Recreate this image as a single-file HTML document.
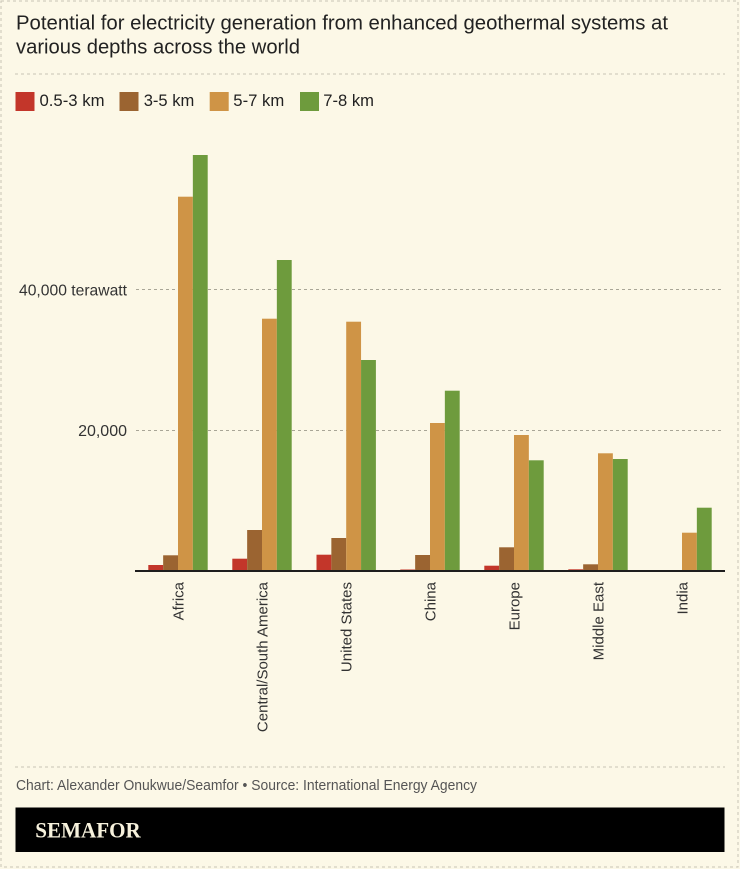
<!DOCTYPE html>
<html>
<head>
<meta charset="utf-8">
<style>
html,body{margin:0;padding:0;background:#fcf8e7;}
svg{display:block;}
text{font-family:"Liberation Sans",Arial,sans-serif;}
</style>
</head>
<body>
<svg width="740" height="869" viewBox="0 0 740 869" xmlns="http://www.w3.org/2000/svg">
<rect x="0" y="0" width="740" height="869" fill="#fcf8e7"/>
<rect x="1" y="1" width="737" height="866" fill="none" stroke="#c9c5b5" stroke-width="1" stroke-dasharray="3,3"/>

<!-- Title -->
<text x="16" y="29.5" font-size="20" fill="#222" textLength="652" lengthAdjust="spacingAndGlyphs">Potential for electricity generation from enhanced geothermal systems at</text>
<text x="16" y="53.5" font-size="20" fill="#222" textLength="284" lengthAdjust="spacingAndGlyphs">various depths across the world</text>

<line x1="15" y1="74" x2="725" y2="74" stroke="#c9c5b5" stroke-width="1" stroke-dasharray="3,3"/>

<!-- Legend -->
<rect x="15.5" y="92" width="19" height="19" fill="#c3362a"/>
<text x="39.5" y="106" font-size="17" fill="#222" textLength="65" lengthAdjust="spacingAndGlyphs">0.5-3 km</text>
<rect x="119.5" y="92" width="19" height="19" fill="#9b6431"/>
<text x="143.7" y="106" font-size="17" fill="#222" textLength="50.6" lengthAdjust="spacingAndGlyphs">3-5 km</text>
<rect x="209.7" y="92" width="19" height="19" fill="#cf9446"/>
<text x="233.3" y="106" font-size="17" fill="#222" textLength="51" lengthAdjust="spacingAndGlyphs">5-7 km</text>
<rect x="300" y="92" width="19" height="19" fill="#6e9b3d"/>
<text x="323.3" y="106" font-size="17" fill="#222" textLength="50.7" lengthAdjust="spacingAndGlyphs">7-8 km</text>

<!-- Gridlines -->
<line x1="136" y1="289.5" x2="722" y2="289.5" stroke="#a9a697" stroke-width="1" stroke-dasharray="3,3"/>
<line x1="136" y1="430.5" x2="722" y2="430.5" stroke="#a9a697" stroke-width="1" stroke-dasharray="3,3"/>
<text x="127" y="295.5" font-size="16" fill="#333" text-anchor="end" textLength="108" lengthAdjust="spacingAndGlyphs">40,000 terawatt</text>
<text x="127" y="436" font-size="16" fill="#333" text-anchor="end">20,000</text>

<!-- Bars -->
<g>
<rect x="148.3" y="565" width="14.85" height="6" fill="#c3362a"/>
<rect x="163.15" y="555.3" width="14.85" height="15.7" fill="#9b6431"/>
<rect x="178" y="196.7" width="14.85" height="374.3" fill="#cf9446"/>
<rect x="192.85" y="155" width="14.85" height="416" fill="#6e9b3d"/>

<rect x="232.3" y="558.7" width="14.85" height="12.3" fill="#c3362a"/>
<rect x="247.15" y="530" width="14.85" height="41" fill="#9b6431"/>
<rect x="262" y="318.7" width="14.85" height="252.3" fill="#cf9446"/>
<rect x="276.85" y="260" width="14.85" height="311" fill="#6e9b3d"/>

<rect x="316.5" y="554.7" width="14.85" height="16.3" fill="#c3362a"/>
<rect x="331.35" y="538" width="14.85" height="33" fill="#9b6431"/>
<rect x="346.2" y="321.7" width="14.85" height="249.3" fill="#cf9446"/>
<rect x="361.05" y="360" width="14.85" height="211" fill="#6e9b3d"/>

<rect x="400.3" y="569.5" width="14.85" height="1.5" fill="#c3362a"/>
<rect x="415.15" y="555" width="14.85" height="16" fill="#9b6431"/>
<rect x="430" y="423" width="14.85" height="148" fill="#cf9446"/>
<rect x="444.85" y="390.7" width="14.85" height="180.3" fill="#6e9b3d"/>

<rect x="484.3" y="565.7" width="14.85" height="5.3" fill="#c3362a"/>
<rect x="499.15" y="547.3" width="14.85" height="23.7" fill="#9b6431"/>
<rect x="514" y="435" width="14.85" height="136" fill="#cf9446"/>
<rect x="528.85" y="460.3" width="14.85" height="110.7" fill="#6e9b3d"/>

<rect x="568.3" y="569.3" width="14.85" height="1.7" fill="#c3362a"/>
<rect x="583.15" y="564.3" width="14.85" height="6.7" fill="#9b6431"/>
<rect x="598" y="453.3" width="14.85" height="117.7" fill="#cf9446"/>
<rect x="612.85" y="459" width="14.85" height="112" fill="#6e9b3d"/>

<rect x="682" y="532.7" width="14.85" height="38.3" fill="#cf9446"/>
<rect x="696.85" y="507.7" width="14.85" height="63.3" fill="#6e9b3d"/>
</g>

<!-- Baseline -->
<rect x="135" y="570" width="590" height="2" fill="#1e1e1e"/>

<!-- X labels -->
<g font-size="15" fill="#333" text-anchor="end">
<text transform="translate(183.5,582) rotate(-90)">Africa</text>
<text transform="translate(267.5,582) rotate(-90)">Central/South America</text>
<text transform="translate(351.5,582) rotate(-90)">United States</text>
<text transform="translate(435.5,582) rotate(-90)">China</text>
<text transform="translate(519.5,582) rotate(-90)">Europe</text>
<text transform="translate(603.5,582) rotate(-90)">Middle East</text>
<text transform="translate(687.5,582) rotate(-90)">India</text>
</g>

<!-- Footer -->
<line x1="15" y1="767" x2="725" y2="767" stroke="#c9c5b5" stroke-width="1" stroke-dasharray="3,3"/>
<text x="16" y="790" font-size="15" fill="#555" textLength="461" lengthAdjust="spacingAndGlyphs">Chart: Alexander Onukwue/Seamfor • Source: International Energy Agency</text>

<rect x="15.5" y="807.5" width="709" height="44.5" fill="#000"/>
<text x="35.3" y="837.5" font-weight="bold" font-size="22" fill="#f6f1dc" textLength="105.5" lengthAdjust="spacingAndGlyphs" style="font-family:'Liberation Serif',serif">SEMAFOR</text>
</svg>
</body>
</html>
